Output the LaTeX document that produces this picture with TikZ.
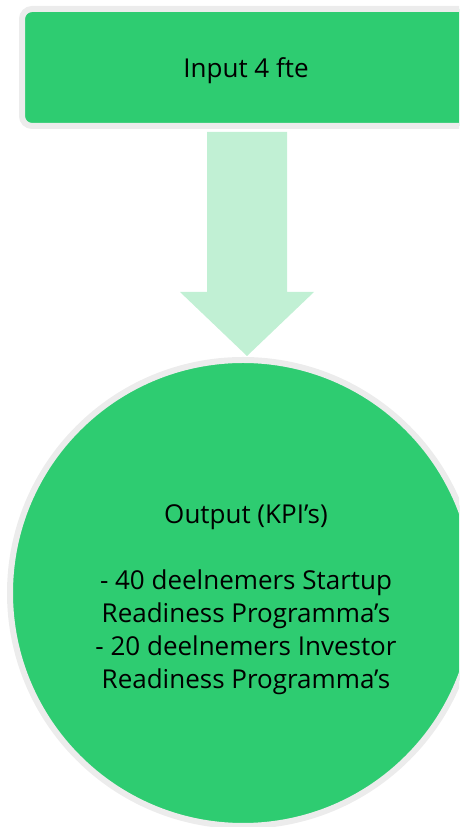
\documentclass[tikz,border=0pt]{standalone}
\usepackage{fontspec}
\setmainfont{Open Sans}
\usetikzlibrary{calc}
\definecolor{boxgreen}{RGB}{46,204,113}
\definecolor{arrowgreen}{RGB}{193,240,212}
\definecolor{rimgray}{RGB}{236,236,236}
\tikzset{
  x=1pt,y=1pt,
  greenshape/.style={fill=boxgreen,draw=rimgray,line width=6pt,inner sep=0pt},
  labeltext/.style={font=\fontsize{26}{33}\selectfont,text=black,align=center,inner sep=0pt},
}
\begin{document}
\begin{tikzpicture}
\useasboundingbox (0,0) rectangle (459,827);
\clip (0,0) rectangle (459,827);
% nodes (shapes only; text placed on top)
\node[greenshape,rectangle,rounded corners=10pt,minimum width=448pt,minimum height=117pt] (input) at (246,759.5) {};
\node[greenshape,circle,minimum size=466pt] (output) at (243,234) {};
% arrow from input to output
\fill[arrowgreen]
  ($(input.south)+(-39,-3)$) -- ($(input.south)+(41,-3)$)
  -- ($(input.south)+(41,-163)$) -- ($(input.south)+(68,-163)$)
  -- ($(output.north)+(4,1)$)
  -- ($(input.south)+(-66,-163)$) -- ($(input.south)+(-39,-163)$) -- cycle;
\node[labeltext,anchor=base] (inputtext) at (246,749) {Input 4 fte};
\node[labeltext,anchor=base] (outtext) at (246,138) {Output (KPI’s)\\[33pt]- 40 deelnemers Startup\\Readiness Programma’s\\- 20 deelnemers Investor\\Readiness Programma’s};
\end{tikzpicture}
\end{document}
